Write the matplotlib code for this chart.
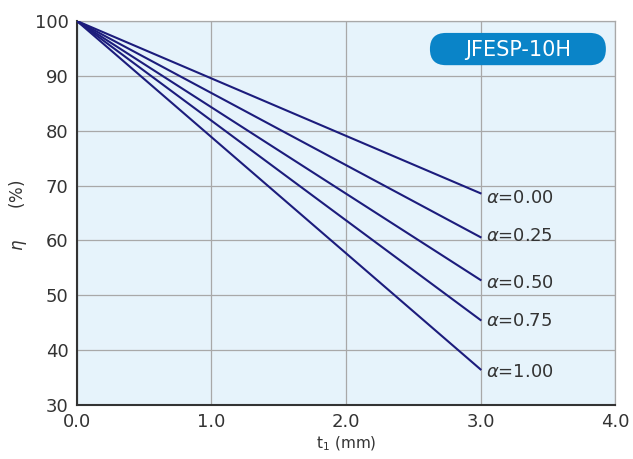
import matplotlib.pyplot as plt
from matplotlib.patches import FancyBboxPatch

# 板厚 t1 (mm) と効率 η (%)
t1 = [0.0, 3.0]
alphas = ['0.00', '0.25', '0.50', '0.75', '1.00']
eta_end = [68.6, 60.6, 52.8, 45.5, 36.5]
label_y = [67.8, 60.9, 52.2, 45.3, 36.1]

x_ticks = [0.0, 1.0, 2.0, 3.0, 4.0]
y_ticks = [30, 40, 50, 60, 70, 80, 90, 100]

fig = plt.figure(figsize=(6.33, 4.59), dpi=100)
ax = fig.add_axes([0.1216, 0.1176, 0.8500, 0.8366])
ax.set_facecolor('#e6f3fb')

for a, e, ly in zip(alphas, eta_end, label_y):
    ax.plot(t1, [100, e], color='#1c1c7c', lw=1.5, zorder=3)
    ax.text(3.04, ly, r'$\alpha$=' + a, fontsize=13, color='#333333',
            va='center', ha='left')

ax.set_xlim(0, 4)
ax.set_ylim(30, 100)
ax.set_xticks(x_ticks)
ax.set_xticklabels([f'{v:.1f}' for v in x_ticks])
ax.set_yticks(y_ticks)
ax.tick_params(length=0, labelsize=13, colors='#333333', pad=6)
ax.grid(True, color='#a8a8a8', lw=0.9)
ax.set_axisbelow(True)

for s in ['top', 'right']:
    ax.spines[s].set_color('#a8a8a8')
    ax.spines[s].set_linewidth(0.9)
for s in ['left', 'bottom']:
    ax.spines[s].set_color('#333333')
    ax.spines[s].set_linewidth(1.5)

ax.set_xlabel('t$_1$ (mm)', fontsize=11, color='#333333', labelpad=2)
fig.text(0.028, 0.532, r'$\eta$      (%)', rotation=90, fontsize=12,
         color='#333333', ha='center', va='center')

# タイトルバッジ (axes fraction)
badge = FancyBboxPatch((0.656, 0.885), 0.327, 0.084,
                       boxstyle='round,pad=0,rounding_size=0.0297',
                       mutation_aspect=1.40, transform=ax.transAxes,
                       facecolor='#0a84c8', edgecolor='none', zorder=4)
ax.add_patch(badge)
ax.text(0.8195, 0.925, 'JFESP-10H', fontsize=15, color='white',
        ha='center', va='center', transform=ax.transAxes, zorder=5)

fig.savefig('out.png', dpi=100)
